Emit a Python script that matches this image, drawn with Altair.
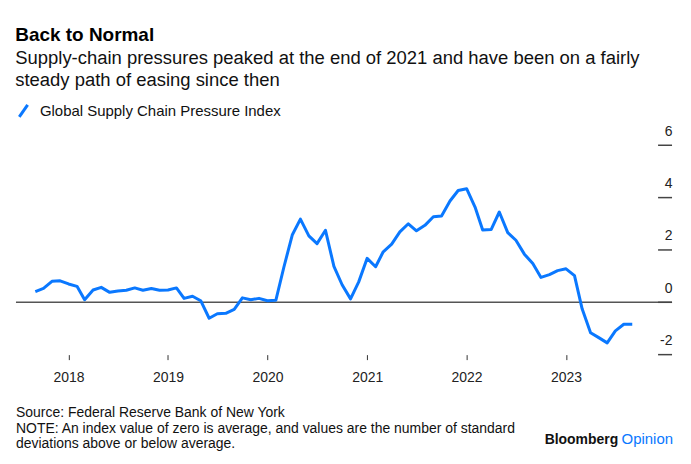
import altair as alt
import pandas as pd

FONT = "Liberation Sans"
BLUE = "#0a78ff"

# Monthly Global Supply Chain Pressure Index, Sep 2017 - Sep 2023
months = pd.date_range("2017-09-01", "2023-09-01", freq="MS").strftime("%Y-%m-%d").tolist()
gscpi = [
    0.41, 0.53, 0.80, 0.82,
    0.70, 0.61, 0.10, 0.47, 0.57, 0.38, 0.43, 0.46, 0.55, 0.46, 0.53, 0.46,
    0.47, 0.55, 0.15, 0.23, 0.06, -0.61, -0.44, -0.42, -0.27, 0.17, 0.10, 0.15,
    0.06, 0.08, 1.33, 2.57, 3.18, 2.54, 2.24, 2.75, 1.37, 0.67, 0.13, 0.78,
    1.68, 1.36, 1.93, 2.22, 2.69, 3.00, 2.73, 2.94, 3.27, 3.30, 3.87, 4.27,
    4.34, 3.64, 2.76, 2.78, 3.45, 2.66, 2.37, 1.84, 1.48, 0.95, 1.06, 1.21,
    1.28, 1.02, -0.25, -1.16, -1.35, -1.55, -1.09, -0.84, -0.84,
]
series_name = "Global Supply Chain Pressure Index"
y_ticks = [-2, 0, 2, 4, 6]
year_ticks = [2018, 2019, 2020, 2021, 2022, 2023]

title_text = "Back to Normal"
subtitle_lines = [
    "Supply-chain pressures peaked at the end of 2021 and have been on a fairly",
    "steady path of easing since then",
]
footer_lines = [
    "Source: Federal Reserve Bank of New York",
    "NOTE: An index value of zero is average, and values are the number of standard",
    "deviations above or below average.",
]

df = pd.DataFrame({"date": months, "value": gscpi, "series": series_name})

x_scale = alt.Scale(
    type="utc",
    domain=[alt.DateTime(year=2017, month=6, date=22, utc=True),
            alt.DateTime(year=2024, month=1, date=25, utc=True)],
)
y_scale = alt.Scale(domain=[-2, 6], nice=False, zero=False)

y_enc = alt.Y(
    "value:Q", scale=y_scale,
    axis=alt.Axis(
        orient="right", values=y_ticks, title=None, domain=False, ticks=False, grid=False,
        labelAlign="right", labelBaseline="alphabetic", labelPadding=0, labelOffset=-10,
        labelFont=FONT, labelFontSize=14, labelColor="#222", labelExpr="datum.value + ''",
    ),
)

line = alt.Chart(df).mark_line(strokeWidth=3, strokeJoin="round").encode(
    x=alt.X(
        "date:T", scale=x_scale,
        axis=alt.Axis(
            title=None, domain=False, grid=False, ticks=True, tickSize=5, tickColor="#333",
            tickWidth=1, labelPadding=11, format="%Y", labelFont=FONT, labelFontSize=14,
            labelColor="#222",
            values=[alt.DateTime(year=y, month=1, date=1, utc=True) for y in year_ticks],
        ),
    ),
    y=y_enc,
    color=alt.Color(
        "series:N", scale=alt.Scale(range=[BLUE]),
        legend=alt.Legend(
            title=None, orient="none", legendX=0, legendY=-42, padding=0,
            symbolType="M-0.7,1L0.7,-1", symbolSize=144, symbolStrokeWidth=3,
            labelFont=FONT, labelFontSize=15, labelColor="#111", labelOffset=9,
            labelLimit=0,
        ),
    ),
)

zero = alt.Chart(pd.DataFrame({"value": [0]})).mark_rule(color="#555", strokeWidth=1.5).encode(y=y_enc)

tick_marks = alt.Chart(pd.DataFrame({"value": y_ticks})).mark_rule(color="#444", strokeWidth=1.5).encode(
    y=y_enc, x=alt.value(644), x2=alt.value(658)
)

footer = alt.Chart(pd.DataFrame({"k": [0]})).mark_text(
    text=footer_lines, align="left", baseline="alphabetic", font=FONT, fontSize=14,
    lineHeight=15.5, color="#111",
).encode(x=alt.value(0), y=alt.value(273))

brand1 = alt.Chart(pd.DataFrame({"k": [0]})).mark_text(
    text="Bloomberg", align="right", baseline="alphabetic", font=FONT, fontSize=14,
    fontWeight="bold", color="#111",
).encode(x=alt.value(604), y=alt.value(300))

brand2 = alt.Chart(pd.DataFrame({"k": [0]})).mark_text(
    text="Opinion", align="right", baseline="alphabetic", font=FONT, fontSize=15,
    color=BLUE,
).encode(x=alt.value(659), y=alt.value(300))

chart = alt.layer(zero, tick_marks, line, footer, brand1, brand2).properties(
    width=658, height=210,
    padding={"left": 7, "top": 17, "right": 10, "bottom": 5},
    title=alt.TitleParams(
        text=title_text, subtitle=subtitle_lines, anchor="start",
        font=FONT, fontSize=19, fontWeight="bold", color="#000",
        subtitleFont=FONT, subtitleFontSize=18.5, subtitleColor="#111",
        subtitleLineHeight=22.5, subtitlePadding=4, offset=14,
    ),
).configure_view(stroke=None)

chart.save("out.html", embed_options={"renderer": "svg", "actions": False})
